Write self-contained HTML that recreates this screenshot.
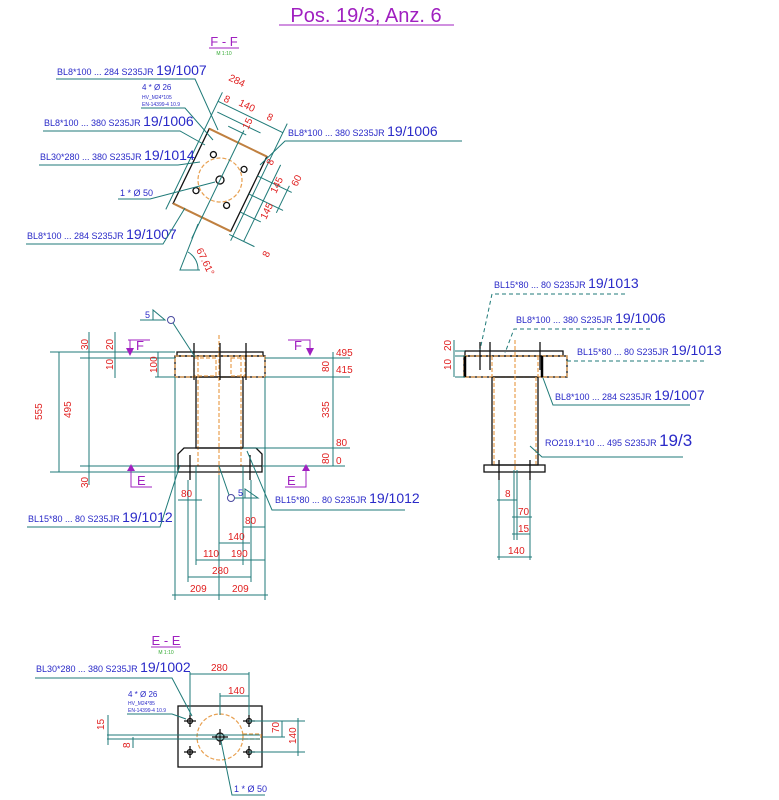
<!DOCTYPE html>
<html><head><meta charset="utf-8"><style>
html,body{margin:0;padding:0;background:#fff;width:779px;height:800px;overflow:hidden}
svg{display:block}
text{font-family:"Liberation Sans",sans-serif}
.r{fill:#e02020;font-size:10px}
.b{fill:#2a2ac8;font-size:9px}
.bb{fill:#2a2ac8;font-size:14px}
.t{stroke:#1f7a78;stroke-width:1;fill:none}
.k{stroke:#111;stroke-width:1.3;fill:none}
.o{stroke:#e8a050;stroke-width:1.2;fill:none;stroke-dasharray:4 2}
.p{fill:#a020c0}
</style></head><body>
<svg width="779" height="800" viewBox="0 0 779 800">
<!-- title -->
<text x="366" y="22" text-anchor="middle" class="p" style="font-size:20px">Pos. 19/3, Anz. 6</text>
<line x1="279" y1="25" x2="454" y2="25" stroke="#a020c0"/>

<!-- F-F -->
<text x="224" y="46" text-anchor="middle" class="p" style="font-size:13px">F - F</text>
<line x1="209" y1="48" x2="239" y2="48" stroke="#a020c0"/>
<text x="224" y="55" text-anchor="middle" fill="#3a3" style="font-size:5px">M 1:10</text>
<g transform="rotate(25.8 220 180)">
<rect x="188" y="138.5" width="64" height="83" class="k" stroke="#8a6a50"/>
<line x1="188" y1="138.5" x2="252" y2="138.5" stroke="#c08040" stroke-width="2"/>
<line x1="188" y1="221.5" x2="252" y2="221.5" stroke="#c08040" stroke-width="2"/>
<circle cx="220" cy="180" r="22" class="o"/>
<circle cx="220" cy="180" r="4" class="k" stroke-width="1"/>
<g class="k" stroke-width="0.8">
<circle cx="203" cy="160" r="3"/><circle cx="237" cy="160" r="3"/><circle cx="203" cy="200" r="3"/><circle cx="237" cy="200" r="3"/>
</g>
<!-- dims top -->
<line x1="184" y1="110" x2="256" y2="110" class="t"/>
<line x1="188" y1="120" x2="236" y2="120" class="t"/>
<line x1="204" y1="128" x2="224" y2="128" class="t"/>
<line x1="184" y1="100" x2="184" y2="230" class="t"/>
<line x1="256" y1="100" x2="256" y2="230" class="t"/>
<line x1="220" y1="125" x2="220" y2="245" class="t"/>
<!-- dims right -->
<line x1="252" y1="160" x2="290" y2="160" class="t"/>
<line x1="252" y1="180" x2="290" y2="180" class="t"/>
<line x1="252" y1="200" x2="275" y2="200" class="t"/>
<line x1="252" y1="225" x2="280" y2="225" class="t"/>
<line x1="268" y1="140" x2="268" y2="225" class="t"/>
<line x1="285" y1="155" x2="285" y2="185" class="t"/>
</g>
<text x="228" y="80" class="r" transform="rotate(25.8 228 80)">284</text>
<text x="238" y="105" class="r" transform="rotate(25.8 238 105)">140</text>
<text x="223" y="101" class="r" transform="rotate(25.8 223 101)">8</text>
<text x="248" y="130" class="r" transform="rotate(-64 248 130)">15</text>
<text x="266" y="119" class="r" transform="rotate(25.8 266 119)">8</text>
<text x="272" y="166" class="r" transform="rotate(-64 272 166)">8</text>
<text x="297" y="187" class="r" transform="rotate(-64 297 187)">60</text>
<text x="276" y="194" class="r" transform="rotate(-64 276 194)">145</text>
<text x="266" y="220" class="r" transform="rotate(-64 266 220)">145</text>
<text x="268" y="258" class="r" transform="rotate(-64 268 258)">8</text>
<text x="196" y="250" class="r" transform="rotate(64 196 250)">67.61°</text>
<path d="M198 224 L180 270 L200 270" class="t"/>
<path d="M188 252 A20 20 0 0 1 198 270" class="t"/>
<!-- labels F-F -->
<text x="57" y="75" class="b">BL8*100 ... 284 S235JR <tspan class="bb">19/1007</tspan></text>
<polyline points="56,79 195,79 218,130" class="t"/>
<text x="142" y="90" class="b" style="font-size:8px">4 * Ø 26</text>
<text x="142" y="99" class="b" style="font-size:5px">HV_M24*105</text>
<text x="142" y="106" class="b" style="font-size:5px">EN-14399-4 10.9</text>
<polyline points="141,108 185,108 213,140" class="t"/>
<text x="44" y="126" class="b">BL8*100 ... 380 S235JR <tspan class="bb">19/1006</tspan></text>
<polyline points="43,131 180,131 205,145" class="t"/>
<text x="40" y="160" class="b">BL30*280 ... 380 S235JR <tspan class="bb">19/1014</tspan></text>
<polyline points="39,165 178,165 200,162" class="t"/>
<text x="120" y="196" class="b">1 * Ø 50</text>
<polyline points="118,199 150,199 215,182" class="t"/>
<text x="27" y="239" class="b">BL8*100 ... 284 S235JR <tspan class="bb">19/1007</tspan></text>
<polyline points="26,244 163,244 185,208" class="t"/>
<text x="288" y="136" class="b">BL8*100 ... 380 S235JR <tspan class="bb">19/1006</tspan></text>
<polyline points="462,141 285,141 260,165" class="t"/>

<!-- FRONT VIEW -->
<rect x="177" y="352" width="86" height="4" class="k"/>
<rect x="175" y="356" width="90" height="21" class="k" stroke="#333"/>
<rect x="175" y="356" width="90" height="21" class="o"/>
<rect x="196" y="377" width="47" height="71" class="k"/>
<line x1="198" y1="356" x2="198" y2="466" class="o"/>
<line x1="241" y1="356" x2="241" y2="466" class="o"/>
<line x1="219" y1="335" x2="219" y2="475" class="o" stroke-dasharray="6 2 1 2"/>
<rect x="194" y="358" width="22" height="18" class="o"/>
<rect x="231" y="358" width="14" height="18" class="o"/>
<path d="M178 472 L178 454 L184 448 L256 448 L262 454 L262 472 Z" class="k"/>
<line x1="178" y1="466" x2="262" y2="466" class="k"/>
<g class="k" stroke-width="1"><line x1="194" y1="343" x2="194" y2="380"/><line x1="220" y1="343" x2="220" y2="380"/><line x1="246" y1="343" x2="246" y2="380"/><line x1="190" y1="455" x2="190" y2="480"/><line x1="250" y1="455" x2="250" y2="480"/></g>
<!-- left dims -->
<g class="t">
<line x1="50" y1="352" x2="175" y2="352"/><line x1="80" y1="358" x2="175" y2="358"/>
<line x1="155" y1="377" x2="175" y2="377"/><line x1="80" y1="466" x2="178" y2="466"/><line x1="50" y1="472" x2="178" y2="472"/>
<line x1="59" y1="352" x2="59" y2="472"/><line x1="89" y1="332" x2="89" y2="485"/>
<line x1="115" y1="332" x2="115" y2="378"/><line x1="158" y1="352" x2="158" y2="377"/>
<!-- right dims -->
<line x1="265" y1="358" x2="350" y2="358"/><line x1="265" y1="377" x2="350" y2="377"/>
<line x1="243" y1="448" x2="350" y2="448"/><line x1="262" y1="466" x2="345" y2="466"/>
<line x1="333" y1="352" x2="333" y2="466"/>
<!-- bottom dims -->
<line x1="175" y1="377" x2="175" y2="600"/><line x1="265" y1="377" x2="265" y2="600"/>
<line x1="196" y1="466" x2="196" y2="565"/><line x1="243" y1="466" x2="243" y2="565"/>
<line x1="219" y1="475" x2="219" y2="600"/><line x1="188" y1="480" x2="188" y2="582"/><line x1="251" y1="480" x2="251" y2="582"/>
<line x1="178" y1="500" x2="202" y2="500"/><line x1="243" y1="527" x2="265" y2="527"/>
<line x1="219" y1="543" x2="250" y2="543"/><line x1="196" y1="560" x2="265" y2="560"/>
<line x1="188" y1="577" x2="251" y2="577"/><line x1="172" y1="595" x2="268" y2="595"/>
</g>
<text x="42" y="420" class="r" transform="rotate(-90 42 420)">555</text>
<text x="71" y="418" class="r" transform="rotate(-90 71 418)">495</text>
<text x="88" y="350" class="r" transform="rotate(-90 88 350)">30</text>
<text x="88" y="488" class="r" transform="rotate(-90 88 488)">30</text>
<text x="113" y="350" class="r" transform="rotate(-90 113 350)">20</text>
<text x="113" y="370" class="r" transform="rotate(-90 113 370)">10</text>
<text x="157" y="373" class="r" transform="rotate(-90 157 373)">100</text>
<text x="336" y="356" class="r">495</text>
<text x="336" y="373" class="r">415</text>
<text x="329" y="372" class="r" transform="rotate(-90 329 372)">80</text>
<text x="329" y="418" class="r" transform="rotate(-90 329 418)">335</text>
<text x="336" y="446" class="r">80</text>
<text x="329" y="464" class="r" transform="rotate(-90 329 464)">80</text>
<text x="336" y="464" class="r">0</text>
<text x="181" y="497" class="r">80</text>
<text x="245" y="524" class="r">80</text>
<text x="228" y="540" class="r">140</text>
<text x="203" y="557" class="r">110</text>
<text x="231" y="557" class="r">190</text>
<text x="212" y="574" class="r">280</text>
<text x="190" y="592" class="r">209</text>
<text x="232" y="592" class="r">209</text>
<!-- F/E markers -->
<text x="136" y="350" class="p" style="font-size:13px">F</text>
<path d="M128 340 L150 340 M130 340 L130 353" stroke="#a020c0" fill="none"/><path d="M126 348 L134 348 L130 356Z" fill="#a020c0"/>
<text x="294" y="350" class="p" style="font-size:13px">F</text>
<path d="M288 340 L310 340 L310 353" stroke="#a020c0" fill="none"/><path d="M306 348 L314 348 L310 356Z" fill="#a020c0"/>
<text x="137" y="485" class="p" style="font-size:13px">E</text>
<path d="M131 470 L131 487 L152 487" stroke="#a020c0" fill="none"/><path d="M127 471 L135 471 L131 464Z" fill="#a020c0"/>
<text x="287" y="485" class="p" style="font-size:13px">E</text>
<path d="M306 470 L306 487 L285 487" stroke="#a020c0" fill="none"/><path d="M302 471 L310 471 L306 464Z" fill="#a020c0"/>
<!-- weld symbols -->
<text x="145" y="318" class="b">5</text>
<path d="M140 320 L165 320 L153 310 L153 320" stroke="#1f7a78" fill="none"/>
<circle cx="171" cy="320" r="3.5" fill="none" stroke="#4a4aa0"/>
<line x1="173" y1="323" x2="195" y2="357" class="t"/>
<text x="238" y="496" class="b">5</text>
<path d="M234 498 L258 498 L245 489 L245 498" stroke="#1f7a78" fill="none"/>
<circle cx="231" cy="498" r="3.5" fill="none" stroke="#4a4aa0"/>
<line x1="229" y1="495" x2="219" y2="466" class="t"/>
<text x="275" y="503" class="b">BL15*80 ... 80 S235JR <tspan class="bb">19/1012</tspan></text>
<polyline points="405,510 272,510 247,451" class="t"/>
<text x="28" y="522" class="b">BL15*80 ... 80 S235JR <tspan class="bb">19/1012</tspan></text>
<polyline points="27,527 160,527 180,465" class="t"/>

<!-- SIDE VIEW -->
<rect x="465" y="351" width="98" height="5" class="k"/>
<rect x="464" y="356" width="103" height="21" class="k" stroke="#333"/>
<rect x="464" y="356" width="103" height="21" class="o"/>
<rect x="492" y="377" width="46" height="88" class="k"/>
<line x1="492" y1="356" x2="492" y2="377" class="o"/><line x1="538" y1="356" x2="538" y2="377" class="o"/>
<line x1="515" y1="340" x2="515" y2="470" class="o" stroke-dasharray="6 2 1 2"/>
<line x1="494" y1="377" x2="494" y2="465" class="o"/><line x1="536" y1="377" x2="536" y2="465" class="o"/>
<rect x="484" y="465" width="61" height="7" class="k"/>
<line x1="465" y1="356" x2="465" y2="377" stroke="#000" stroke-width="2.5"/>
<line x1="542" y1="356" x2="542" y2="377" stroke="#000" stroke-width="2.5"/>
<g class="k" stroke-width="1"><line x1="480" y1="342" x2="480" y2="370"/><line x1="490" y1="342" x2="490" y2="370"/><line x1="540" y1="342" x2="540" y2="370"/><line x1="499" y1="460" x2="499" y2="480"/><line x1="530" y1="460" x2="530" y2="480"/></g>
<g class="t">
<line x1="455" y1="351" x2="465" y2="351"/><line x1="455" y1="356" x2="465" y2="356"/><line x1="455" y1="377" x2="465" y2="377"/>
<line x1="454" y1="340" x2="454" y2="377"/>
<line x1="499" y1="480" x2="499" y2="560"/><line x1="530" y1="480" x2="530" y2="560"/>
<line x1="514" y1="470" x2="514" y2="540"/><line x1="517" y1="470" x2="517" y2="540"/>
<line x1="497" y1="500" x2="517" y2="500"/><line x1="512" y1="517" x2="532" y2="517"/>
<line x1="512" y1="534" x2="530" y2="534"/><line x1="497" y1="557" x2="532" y2="557"/>
</g>
<text x="451" y="351" class="r" transform="rotate(-90 451 351)">20</text>
<text x="451" y="370" class="r" transform="rotate(-90 451 370)">10</text>
<text x="505" y="497" class="r">8</text>
<text x="518" y="515" class="r">70</text>
<text x="518" y="532" class="r">15</text>
<text x="508" y="554" class="r">140</text>
<text x="494" y="288" class="b">BL15*80 ... 80 S235JR <tspan class="bb">19/1013</tspan></text>
<polyline points="625,294 492,294 480,350" class="t" stroke-dasharray="4 3"/>
<text x="516" y="323" class="b">BL8*100 ... 380 S235JR <tspan class="bb">19/1006</tspan></text>
<polyline points="650,329 514,329 505,353" class="t" stroke-dasharray="4 3"/>
<text x="577" y="355" class="b">BL15*80 ... 80 S235JR <tspan class="bb">19/1013</tspan></text>
<line x1="567" y1="361" x2="706" y2="361" class="t" stroke-dasharray="4 3"/>
<text x="555" y="400" class="b">BL8*100 ... 284 S235JR <tspan class="bb">19/1007</tspan></text>
<polyline points="690,405 553,405 543,378" class="t"/>
<text x="545" y="446" class="b">RO219.1*10 ... 495 S235JR <tspan class="bb" style="font-size:17px">19/3</tspan></text>
<polyline points="683,457 542,457 530,446" class="t"/>

<!-- E-E -->
<text x="166" y="645" text-anchor="middle" class="p" style="font-size:13px">E - E</text>
<line x1="151" y1="647" x2="181" y2="647" stroke="#a020c0"/>
<text x="166" y="654" text-anchor="middle" fill="#3a3" style="font-size:5px">M 1:10</text>
<rect x="178" y="706" width="84" height="61" class="k"/>
<circle cx="220" cy="737" r="23" class="o"/>
<circle cx="220" cy="737" r="4" class="k" stroke-width="1"/>
<line x1="212" y1="737" x2="228" y2="737" class="k" stroke-width="0.8"/><line x1="220" y1="729" x2="220" y2="745" class="k" stroke-width="0.8"/>
<g class="k" stroke-width="0.8">
<circle cx="190" cy="721" r="2.5"/><circle cx="249" cy="721" r="2.5"/><circle cx="190" cy="752" r="2.5"/><circle cx="249" cy="752" r="2.5"/>
<path d="M184 721h12M190 715v12M243 721h12M249 715v12M184 752h12M190 746v12M243 752h12M249 746v12"/>
</g>
<rect x="243" y="734" width="18" height="5" class="o"/>
<g class="t">
<line x1="190" y1="672" x2="190" y2="715"/><line x1="249" y1="672" x2="249" y2="715"/>
<line x1="190" y1="674" x2="249" y2="674"/><line x1="220" y1="693" x2="220" y2="715"/><line x1="220" y1="696" x2="249" y2="696"/>
<line x1="249" y1="721" x2="305" y2="721"/><line x1="249" y1="752" x2="305" y2="752"/><line x1="262" y1="737" x2="285" y2="737"/>
<line x1="282" y1="721" x2="282" y2="737"/><line x1="298" y1="718" x2="298" y2="756"/>
<line x1="107" y1="735" x2="260" y2="735"/><line x1="107" y1="739" x2="260" y2="739"/>
<line x1="108" y1="715" x2="108" y2="745"/><line x1="133" y1="737" x2="133" y2="748"/>
</g>
<text x="211" y="671" class="r">280</text>
<text x="228" y="694" class="r">140</text>
<text x="279" y="733" class="r" transform="rotate(-90 279 733)">70</text>
<text x="296" y="744" class="r" transform="rotate(-90 296 744)">140</text>
<text x="104" y="730" class="r" transform="rotate(-90 104 730)">15</text>
<text x="130" y="748" class="r" transform="rotate(-90 130 748)">8</text>
<text x="36" y="672" class="b">BL30*280 ... 380 S235JR <tspan class="bb">19/1002</tspan></text>
<polyline points="35,678 172,678 192,716" class="t"/>
<text x="128" y="697" class="b" style="font-size:8px">4 * Ø 26</text>
<text x="128" y="705" class="b" style="font-size:5px">HV_M24*85</text>
<text x="128" y="712" class="b" style="font-size:5px">EN-14399-4 10.9</text>
<polyline points="127,714 172,714 186,719" class="t"/>
<text x="234" y="792" class="b">1 * Ø 50</text>
<polyline points="265,795 232,795 221,741" class="t"/>
</svg>
</body></html>
